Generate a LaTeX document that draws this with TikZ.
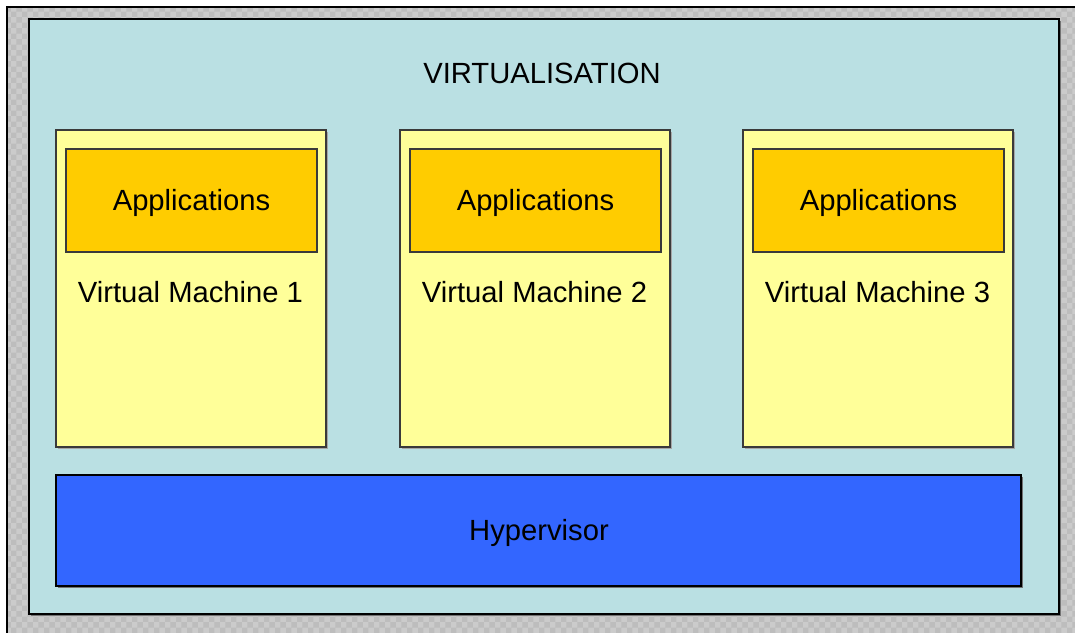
\documentclass[tikz,border=0pt]{standalone}
\usepackage{fontspec}
\setmainfont{Liberation Sans}
\usetikzlibrary{patterns}
\definecolor{panel}{HTML}{BAE0E3}
\definecolor{vmfill}{HTML}{FFFF99}
\definecolor{appfill}{HTML}{FFCC00}
\definecolor{hypfill}{HTML}{3366FF}
\definecolor{bggray}{HTML}{CBCBCB}
\definecolor{chk}{HTML}{BDBDBD}
\definecolor{edge}{HTML}{3A3A3A}
\begin{document}
\begin{tikzpicture}[x=1pt,y=-1pt,
  txt/.style={font=\fontsize{29.2}{33}\selectfont, text=black},
  shadowbox/.style={fill=black!55},
  vmbox/.style={fill=vmfill, draw=edge, line width=1.1pt},
  appbox/.style={fill=appfill, draw=edge, line width=1.1pt},
  hypbox/.style={fill=hypfill, draw=black, line width=1.3pt},
  panelbox/.style={fill=panel, draw=black, line width=1.3pt}]
\useasboundingbox (0,0) rectangle (1075,632);
\begin{scope}
\clip (0,0) rectangle (1075,632);
\fill[white] (0,0) rectangle (1075,632);
\fill[bggray] (7,7) rectangle (1090,650);
\fill[pattern=checkerboard, pattern color=chk] (7,7) rectangle (1090,650);
\draw[black, line width=2pt] (1090,7) -- (7,7) -- (7,650);
\end{scope}
% panel
\fill[shadowbox] (31,21) rectangle (1061,616);
\draw[panelbox] (29,19) rectangle (1059,614);
\node[txt] (title) at (542,73) {VIRTUALISATION};
% VMs
\foreach \i/\xa in {1/56, 2/400, 3/743} {
  \fill[black!35] (\xa+2,132) rectangle (\xa+272,449);
  \draw[vmbox] (\xa,130) rectangle (\xa+270,447);
  \draw[appbox] (\xa+10,149) rectangle (\xa+261,252);
  \node[txt] (app\i) at (\xa+135.5,203) {Applications};
  \node[txt] (vmlabel\i) at (\xa+134.5,292) {Virtual Machine \i};
}
% hypervisor
\fill[shadowbox] (58,477) rectangle (1023,588);
\draw[hypbox] (56,475) rectangle (1021,586);
\node[txt] (hyp) at (539,533) {Hypervisor};
\end{tikzpicture}
\end{document}
